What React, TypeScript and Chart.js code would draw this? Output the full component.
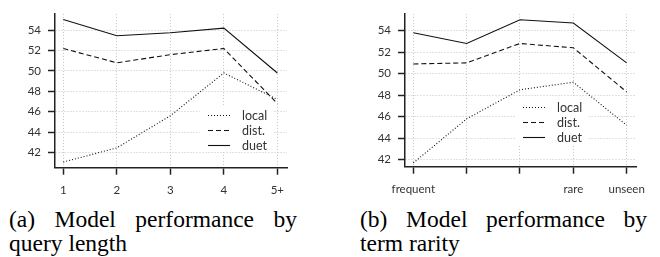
import React, { useEffect, useRef } from "react";
import { Chart, registerables } from "chart.js";

Chart.register(...registerables);

// ---- Data ----
const seriesLabels = ["local", "dist.", "duet"];
const seriesDashes = [[1, 2], [5, 3], []];

const lengthCategories = ["1", "2", "3", "4", "5+"];
const lengthLocal = [41.05, 42.45, 45.6, 49.8, 47.2];
const lengthDist = [52.2, 50.8, 51.6, 52.2, 46.8];
const lengthDuet = [55.05, 53.45, 53.75, 54.2, 49.8];

const rarityCategories = ["frequent", "", "", "rare", "unseen"];
const rarityLocal = [41.7, 45.8, 48.5, 49.2, 45.2];
const rarityDist = [50.9, 51.0, 52.8, 52.4, 48.3];
const rarityDuet = [53.8, 52.8, 55.0, 54.7, 51.0];

const captionA = ["(a) Model performance by", "query length"];
const captionB = ["(b) Model performance by", "term rarity"];

const TICK_FONT = { family: "Lato, 'Open Sans', sans-serif", size: 11.5 };

const insideLegend = {
  id: "insideLegend",
  beforeDatasetsDraw(chart: any, _args: any, opts: any) {
    const { ctx, chartArea } = chart;
    const x0 = chartArea.right + opts.dx;
    const y0 = chartArea.bottom + opts.dy;
    const n = chart.data.datasets.length;
    ctx.save();
    ctx.fillStyle = "#ffffff";
    ctx.fillRect(x0 - 8, y0 - 10, opts.boxWidth, (n - 1) * opts.rowGap + 17);
    chart.data.datasets.forEach((ds: any, i: number) => {
      const y = Math.round(y0 + i * opts.rowGap) + 0.5;
      ctx.strokeStyle = ds.borderColor;
      ctx.lineWidth = ds.borderWidth;
      ctx.setLineDash(ds.borderDash || []);
      ctx.beginPath();
      ctx.moveTo(x0, y);
      ctx.lineTo(x0 + opts.lineLen, y);
      ctx.stroke();
      ctx.setLineDash([]);
      ctx.fillStyle = "#333";
      ctx.font = `12.5px ${TICK_FONT.family}`;
      ctx.textBaseline = "middle";
      ctx.textAlign = "left";
      ctx.fillText(ds.label, x0 + opts.lineLen + opts.textGap, y);
    });
    ctx.restore();
  },
};

type PanelProps = {
  categories: string[];
  series: number[][];
  xMin: number;
  xMax: number;
  yMin: number;
  yMax: number;
  yAxisWidth: number;
  xAxisHeight: number;
  padRight: number;
  legendDx: number;
  legendDy: number;
  left: number;
};

function Panel(p: PanelProps) {
  const ref = useRef<HTMLCanvasElement | null>(null);
  useEffect(() => {
    if (!ref.current) return;
    const datasets = p.series.map((vals, si) => ({
      label: seriesLabels[si],
      data: vals.map((v, i) => ({ x: i + 1, y: v })),
      borderColor: "#111",
      borderWidth: 1.1,
      borderDash: seriesDashes[si],
      pointRadius: 0,
      fill: false,
      tension: 0,
    }));
    const gridCommon = {
      color: "#c4c4c4",
      lineWidth: 1,
      tickColor: "#222",
      tickLength: 7,
      tickWidth: 1.5,
      tickBorderDash: [],
    };
    const chart = new Chart(ref.current, {
      type: "line",
      data: { datasets },
      plugins: [insideLegend],
      options: {
        responsive: false,
        animation: false,
        layout: { padding: { top: 5, right: p.padRight, left: 0, bottom: 0 } },
        plugins: {
          legend: { display: false },
          tooltip: { enabled: false },
          insideLegend: {
            dx: p.legendDx,
            dy: p.legendDy,
            lineLen: 22,
            textGap: 12,
            rowGap: 15,
            boxWidth: 73,
          },
        } as any,
        scales: {
          x: {
            type: "linear",
            min: p.xMin,
            max: p.xMax,
            afterFit: (s: any) => {
              s.height = p.xAxisHeight;
            },
            ticks: {
              stepSize: 1,
              includeBounds: false,
              autoSkip: false,
              maxRotation: 0,
              padding: 9,
              color: "#333",
              font: TICK_FONT,
              callback: (v: any) => p.categories[Math.round(Number(v)) - 1] ?? "",
            },
            grid: gridCommon,
            border: { color: "#222", width: 1.5, dash: [1, 2] },
          },
          y: {
            type: "linear",
            min: p.yMin,
            max: p.yMax,
            afterFit: (s: any) => {
              s.width = p.yAxisWidth;
            },
            ticks: {
              stepSize: 2,
              includeBounds: false,
              padding: 7,
              color: "#333",
              font: TICK_FONT,
            },
            grid: gridCommon,
            border: { color: "#222", width: 1.5, dash: [1, 2] },
          },
        },
      } as any,
    });
    return () => chart.destroy();
  }, []);
  return (
    <div style={{ position: "absolute", left: p.left, top: 0, width: 330, height: 200 }}>
      <canvas ref={ref} width={330} height={200} style={{ display: "block" }} />
    </div>
  );
}

function Caption({ lines, left, width }: { lines: string[]; left: number; width: number }) {
  return (
    <div
      style={{
        position: "absolute",
        left,
        top: 207,
        width,
        fontFamily: "'Liberation Serif', 'Times New Roman', serif",
        fontSize: 23.5,
        lineHeight: "24px",
        color: "#000",
        whiteSpace: "nowrap",
      }}
    >
      <div style={{ textAlign: "justify", textAlignLast: "justify" as any, whiteSpace: "normal" }}>{lines[0]}</div>
      <div style={{ textAlign: "left" }}>{lines[1]}</div>
    </div>
  );
}

export default function App() {
  return (
    <div style={{ position: "absolute", left: 0, top: 0, width: 660, height: 257, background: "#fff", overflow: "hidden" }}>
      <Panel
        categories={lengthCategories}
        series={[lengthLocal, lengthDist, lengthDuet]}
        xMin={0.845}
        xMax={5.18}
        yMin={40.5}
        yMax={55.6}
        yAxisWidth={55}
        xAxisHeight={32.3}
        padRight={43}
        legendDx={-79}
        legendDy={-52.7}
        left={0}
      />
      <Panel
        categories={rarityCategories}
        series={[rarityLocal, rarityDist, rarityDuet]}
        xMin={0.844}
        xMax={5.175}
        yMin={41.35}
        yMax={55.55}
        yAxisWidth={75}
        xAxisHeight={33.3}
        padRight={24}
        legendDx={-113}
        legendDy={-59.7}
        left={330}
      />
      <Caption lines={captionA} left={9} width={288} />
      <Caption lines={captionB} left={360} width={287} />
    </div>
  );
}
